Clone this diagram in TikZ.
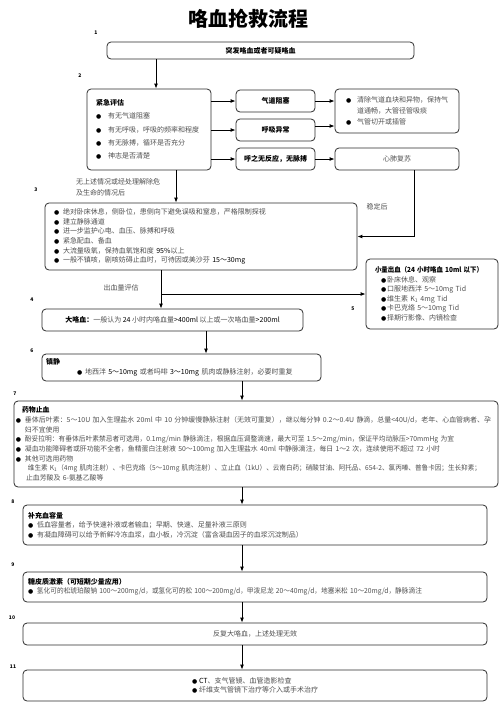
\documentclass[tikz,border=0pt]{standalone}
\usepackage{fontspec}
\setmainfont{Noto Sans CJK SC}
\newfontfamily\symfont{DejaVu Sans}
\usepackage{xcolor}
\usepackage{graphicx}
\usetikzlibrary{arrows.meta}
\definecolor{FlowLine}{RGB}{45,45,45}
\definecolor{FlowText}{RGB}{80,80,80}
\newcommand{\bul}[1][9pt]{\makebox[#1][l]{\textcolor{black}{\fontsize{6}{6}\symfont ●}}}
\newcommand{\dk}[1]{\textcolor{black}{#1}}
\newcommand{\fitline}[2]{\resizebox{#1}{\height}{#2}}
\newcommand{\boxfont}{\fontsize{7}{9.6}\selectfont}

\tikzset{
  box/.style={draw=FlowLine, line width=0.8pt, rounded corners=4pt,
              inner ysep=2pt, font=\boxfont, text=FlowText},
  headbox/.style={box, font=\boxfont\bfseries, text=black},
  flow/.style={-{Latex[length=5pt,width=4pt]}, line width=0.9pt, draw=black},
  stepnum/.style={font=\fontsize{5}{5}\selectfont\bfseries, text=black, inner sep=0pt},
  note/.style={font=\boxfont, text=FlowText, inner sep=0pt}
}

\begin{document}
\begin{tikzpicture}[x=1pt,y=-1pt]
  \fill[white] (0,0) rectangle (500,702);
  \useasboundingbox (0,0) rectangle (500,702);

  % title and step numbers
  \node[font=\fontsize{20}{20}\selectfont\bfseries, inner sep=0pt] (title) at (248,19) {咯血抢救流程};
  \node[stepnum] (n1) at (96,33) {1};
  \node[stepnum] (n2) at (80,76) {2};
  \node[stepnum] (n3) at (36,190) {3};
  \node[stepnum] (n4) at (32,300) {4};
  \node[stepnum] (n5) at (353,309) {5};
  \node[stepnum] (n6) at (32,351) {6};
  \node[stepnum] (n7) at (15,394) {7};
  \node[stepnum] (n8) at (13,502) {8};
  \node[stepnum] (n9) at (13,565) {9};
  \node[stepnum] (n10) at (12,618) {10};
  \node[stepnum] (n11) at (13,667) {11};

  % first rows
  \node[headbox, minimum width=307, minimum height=17] (start) at (260.5,50.5) {突发咯血或者可疑咯血};
  \node[box, minimum width=124, minimum height=81, text width=106, inner xsep=9, align=left] (assess) at (149,129.5) {%
    \dk{\bfseries 紧急评估}\\[3.6pt]
    \bul[12pt]有无气道阻塞\\[3.6pt]
    \bul[12pt]有无呼吸，呼吸的频率和程度\\[3.6pt]
    \bul[12pt]有无脉搏，循环是否充分\\[3.6pt]
    \bul[12pt]神志是否清楚};
  \node[headbox, minimum width=79, minimum height=22] (airway) at (275.5,101) {气道阻塞};
  \node[headbox, minimum width=79, minimum height=22] (breath) at (275.5,130) {呼吸异常};
  \node[headbox, minimum width=79, minimum height=22] (nopulse) at (275.5,159) {呼之无反应，无脉搏};
  \node[box, minimum width=124, minimum height=44, text width=102, inner xsep=11, align=left,
        font=\fontsize{7}{11.4}\selectfont] (clear) at (397,111) {%
    \bul[11pt]清除气道血块和异物，保持气\\
    \hspace*{11pt}道通畅，大管径管吸痰\\
    \bul[11pt]气管切开或插管};
  \node[box, minimum width=124, minimum height=22] (cpr) at (397,159) {心肺复苏};

  % general care
  \node[note, align=left, font=\fontsize{7}{11}\selectfont, anchor=west] (cleared) at (76,187.5) {无上述情况或经处理解除危\\及生命的情况后};
  \node[note] (stable) at (377,207) {稳定后};
  \node[box, minimum width=312, minimum height=67, text width=294, inner xsep=9, align=left] (general) at (201,236.5) {%
    \bul 绝对卧床休息，侧卧位，患侧向下避免误吸和窒息，严格限制探视\\
    \bul 建立静脉通道\\
    \bul 进一步监护心电、血压、脉搏和呼吸\\
    \bul 紧急配血、备血\\
    \bul 大流量吸氧，保持血氧饱和度 \dk{95\%}以上\\
    \bul 一般不镇咳，剧咳妨碍止血时，可待因或美沙芬 \dk{15～30mg}};

  % bleeding volume
  \node[note] (assessvol) at (121,288) {出血量评估};
  \node[box, minimum width=261, minimum height=22] (massive) at (172.5,320) {%
    \dk{\bfseries 大咯血：}一般认为 \dk{24} 小时内咯血量\dk{>400ml} 以上或一次咯血量\dk{>200ml}};
  \node[box, minimum width=132, minimum height=70, text width=116, inner xsep=8, align=left,
        font=\fontsize{7}{9.5}\selectfont] (minor) at (432,294) {%
    \hspace*{1pt}\fitline{108pt}{\dk{\bfseries 小量出血（24 小时咯血 10ml 以下）}}\\
    \hspace*{7pt}\bul[6pt]卧床休息、观察\\
    \hspace*{7pt}\bul[6pt]口服地西泮 5～10mg Tid\\
    \hspace*{7pt}\bul[6pt]维生素 K\textsubscript{1} 4mg Tid\\
    \hspace*{7pt}\bul[6pt]卡巴克络 5～10mg Tid\\
    \hspace*{7pt}\bul[6pt]择期行影像、内镜检查};

  % treatment chain
  \node[box, minimum width=279, minimum height=27, text width=271, inner xsep=4, align=left] (sedate) at (181.5,367.5) {%
    \dk{\bfseries 镇静}\\
    \hspace*{31pt}\bul[8pt]地西泮 \dk{5～10mg} 或者吗啡 \dk{3～10mg} 肌肉或静脉注射，必要时重复};
  \node[box, minimum width=484, minimum height=86, text width=480, inner xsep=2, align=left,
        font=\fontsize{6.9}{9.7}\selectfont] (drug) at (256,444) {%
    \hspace*{6pt}\dk{\bfseries 药物止血}\\
    \bul\fitline{466pt}{垂体后叶素：5～10U 加入生理盐水 20ml 中 10 分钟缓慢静脉注射（无效可重复），继以每分钟 0.2～0.4U 静滴，总量<40U/d，老年、心血管病者、孕}\\
    \hspace*{9pt}妇不宜使用\\
    \bul\fitline{429pt}{酚妥拉明：有垂体后叶素禁忌者可选用，0.1mg/min 静脉滴注，根据血压调整滴速，最大可至 1.5～2mg/min，保证平均动脉压>70mmHg 为宜}\\
    \bul\fitline{415pt}{凝血功能障碍者或肝功能不全者，鱼精蛋白注射液 50～100mg 加入生理盐水 40ml 中静脉滴注，每日 1～2 次，连续使用不超过 72 小时}\\
    \bul 其他可选用药物\\
    \hspace*{12pt}\fitline{453pt}{维生素 K\textsubscript{1}（4mg 肌肉注射）、卡巴克络（5～10mg 肌肉注射）、立止血（1kU）、云南白药；硝酸甘油、阿托品、654-2、氯丙嗪、普鲁卡因；生长抑素；}\\
    \hspace*{10pt}止血芳酸及 6-氨基乙酸等};
  \node[box, minimum width=464, minimum height=40, text width=454, inner xsep=5, align=left] (volume) at (255,525) {%
    \dk{\bfseries 补充血容量}\\
    \bul 低血容量者，给予快速补液或者输血；早期、快速、足量补液三原则\\
    \bul 有凝血障碍可以给予新鲜冷冻血浆，血小板，冷沉淀（富含凝血因子的血浆沉淀制品）};
  \node[box, minimum width=464, minimum height=30, text width=454, inner xsep=5, align=left] (steroid) at (255,587) {%
    \dk{\bfseries 糖皮质激素（可短期少量应用）}\\
    \bul\fitline{385pt}{氢化可的松琥珀酸钠 100～200mg/d，或氢化可的松 100～200mg/d，甲泼尼龙 20～40mg/d，地塞米松 10～20mg/d，静脉滴注}};
  \node[box, minimum width=464, minimum height=22] (recur) at (255,634) {反复大咯血，上述处理无效};
  \node[box, minimum width=464, minimum height=31, align=left] (surgery) at (255,685.5) {%
    \bul[7pt]\dk{CT}、支气管镜、血管造影检查\\
    \bul[7pt]纤维支气管镜下治疗等介入或手术治疗};

  % connectors
  \coordinate (ax1) at (156,0);
  \coordinate (ax2) at (176,0);
  \coordinate (ax3) at (414,0);
  \coordinate (ax4) at (161,0);
  \coordinate (ax5) at (206,0);
  \coordinate (ax6) at (242,0);
  \draw[flow] (start.south -| ax1) -- (assess.north -| ax1);
  \draw[flow] (assess.east |- airway.west) -- (airway.west);
  \draw[flow] (assess.east |- breath.west) -- (breath.west);
  \draw[flow] (assess.east |- nopulse.west) -- (nopulse.west);
  \draw[flow] (airway.east) -- (airway.east -| clear.west);
  \coordinate (br) at ([yshift=4pt]breath.east);
  \draw[flow] (br) -- (br -| clear.west);
  \draw[flow] (nopulse) -- (cpr);
  \draw[flow] (assess.south -| ax2) -- (general.north -| ax2);
  \draw[flow] (cpr.south -| ax3) |- (general.east);
  \draw[flow] (general.south -| ax4) -- (massive.north -| ax4);
  \coordinate (split) at (ax4 |- minor.west);
  \draw[flow] (split) -- (minor.west);
  \draw[flow] (massive.south -| ax5) -- (sedate.north -| ax5);
  \foreach \a/\b in {sedate/drug, drug/volume, volume/steroid, steroid/recur, recur/surgery}
    \draw[flow] (\a.south -| ax6) -- (\b.north -| ax6);
\end{tikzpicture}
\end{document}
